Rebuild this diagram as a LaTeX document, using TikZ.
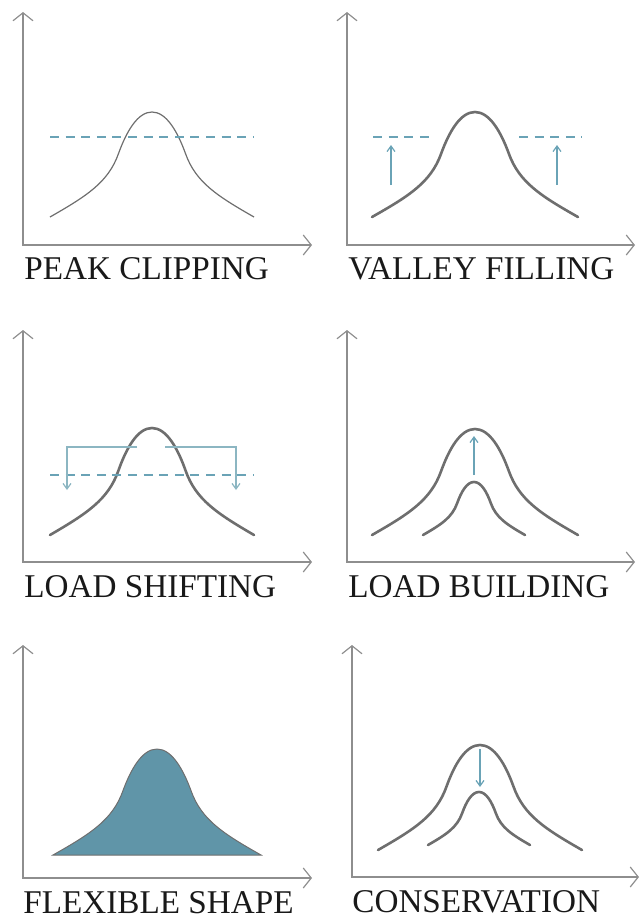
\documentclass[tikz,border=0pt]{standalone}
\usepackage{fontspec}
\setmainfont{Liberation Serif}
\usetikzlibrary{arrows.meta}
\definecolor{axisGrey}{HTML}{8E8E8E}
\definecolor{curveGrey}{HTML}{6E6E6E}
\definecolor{dmTeal}{HTML}{6095A8}
\definecolor{dmLine}{HTML}{6AA3B6}
\definecolor{dmPale}{HTML}{8CB6C2}

% bell shaped load curve: centre x, base y, half width, height
\newcommand\bellcurve[4]{%
  (#1-#3,#2) .. controls (#1-0.64*#3,#2-0.2*#4) and (#1-0.43*#3,#2-0.33*#4) .. (#1-0.33*#3,#2-0.6*#4)
  .. controls (#1-0.25*#3,#2-0.816*#4) and (#1-0.14*#3,#2-#4) .. (#1,#2-#4)
  .. controls (#1+0.14*#3,#2-#4) and (#1+0.25*#3,#2-0.816*#4) .. (#1+0.33*#3,#2-0.6*#4)
  .. controls (#1+0.43*#3,#2-0.33*#4) and (#1+0.64*#3,#2-0.2*#4) .. (#1+#3,#2)}

\begin{document}
\begin{tikzpicture}[x=0.5pt, y=-0.5pt,
    axis/.style={draw=axisGrey, line width=0.6pt, {Straight Barb[length=4pt, width=10pt]}-{Straight Barb[length=4pt, width=10pt]}},
    curve/.style={draw=curveGrey, line width=1.3pt, line cap=round},
    thincurve/.style={draw=curveGrey, line width=0.6pt},
    dashline/.style={draw=dmLine, line width=0.7pt, dash pattern=on 4.5pt off 3.3pt},
    liftarrow/.style={draw=dmLine, line width=0.6pt, -{Straight Barb[length=2.8pt, width=4pt]}},
    shiftline/.style={draw=dmPale, line width=0.6pt, -{Straight Barb[length=2.8pt, width=4pt]}},
    caption/.style={anchor=base west, inner sep=0pt, font=\fontsize{16.6}{18}\selectfont, text=black!90}
  ]
  \useasboundingbox (0,0) rectangle (640,918);

  % axes of the six panels
  \foreach \xo/\yt/\yb/\xr in {23/12/245/312, 347/12/245/635, 23/330/562/312,
                               347/330/562/635, 23/645/878/312, 352/645/877/639}
    \draw[axis] (\xo,\yt) -- (\xo,\yb) -- (\xr,\yb);

  % peak clipping
  \draw[thincurve] \bellcurve{152}{217}{102}{105};
  \draw[dashline] (50,137) -- (253,137);
  \node[caption] (peak) at (24,279) {PEAK CLIPPING};

  % valley filling
  \draw[curve] \bellcurve{475}{217}{103}{105};
  \draw[dashline] (373,137) -- (435,137);
  \draw[dashline] (519,137) -- (582,137);
  \draw[liftarrow] (391,185) -- (391,145);
  \draw[liftarrow] (557,185) -- (557,145);
  \node[caption] (valley) at (348,279) {VALLEY FILLING};

  % load shifting
  \draw[curve] \bellcurve{152}{535}{102}{107};
  \draw[dashline] (50,475) -- (253,475);
  \draw[shiftline] (137,447) -- (67,447) -- (67,490);
  \draw[shiftline] (165,447) -- (236,447) -- (236,490);
  \node[caption] (shift) at (24,597) {LOAD SHIFTING};

  % load building
  \draw[curve] \bellcurve{475}{535}{103}{106};
  \draw[curve] \bellcurve{474}{535}{51}{53};
  \draw[liftarrow] (474,475) -- (474,436);
  \node[caption] (build) at (348,597) {LOAD BUILDING};

  % flexible shape
  \filldraw[fill=dmTeal, draw=curveGrey, line width=0.5pt] \bellcurve{157}{855}{104}{106} -- cycle;
  \node[caption] (flex) at (23,913) {FLEXIBLE SHAPE};

  % conservation
  \draw[curve] \bellcurve{480}{850}{102}{105};
  \draw[curve] \bellcurve{479}{845}{51}{53};
  \draw[liftarrow] (480,749) -- (480,787);
  \node[caption] (cons) at (352,912) {CONSERVATION};
\end{tikzpicture}
\end{document}
